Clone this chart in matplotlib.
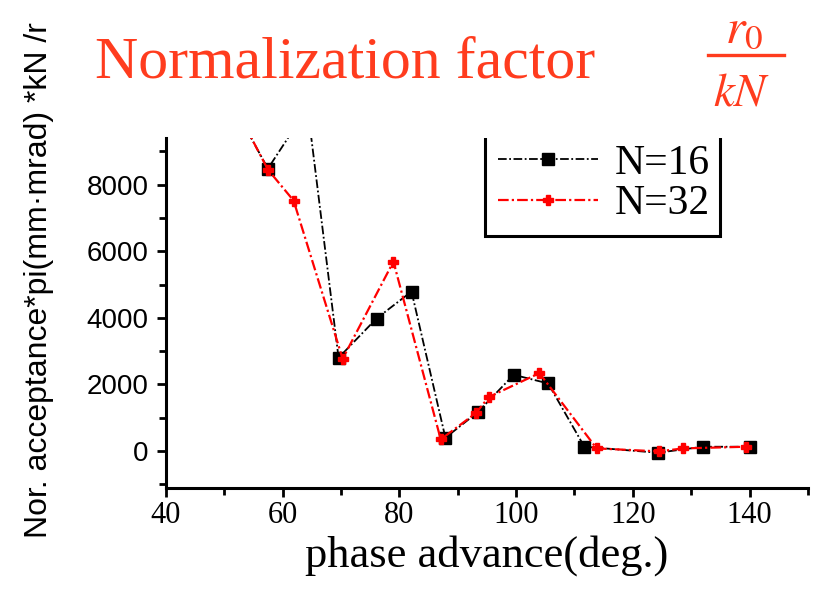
import matplotlib
matplotlib.use("Agg")
import matplotlib.pyplot as plt
from matplotlib.patches import Rectangle
from matplotlib.lines import Line2D
from matplotlib import font_manager

# data (points above the top are off-chart peaks)
n16_x = [51.5, 57.5, 64.3, 69.6, 76.1, 82.1, 87.9, 93.4, 99.6, 105.5, 111.7, 124.3, 132.0, 140.0]
n16_y = [10400, 8480, 10300, 2800, 3980, 4790, 400, 1160, 2290, 2030, 130, -50, 130, 130]

n32_x = [52.0, 57.5, 61.9, 70.3, 79.0, 87.1, 93.2, 95.3, 104.0, 113.8, 124.5, 128.6, 139.4]
n32_y = [10300, 8450, 7520, 2770, 5690, 350, 1150, 1620, 2340, 80, -10, 80, 130]

x_ticks = [40, 60, 80, 100, 120, 140]
y_ticks = [0, 2000, 4000, 6000, 8000]

serif = "Liberation Serif"
names = {f.name for f in font_manager.fontManager.ttflist}
narrow = "Liberation Sans Narrow" if "Liberation Sans Narrow" in names else "Liberation Sans"
title_red = "#ff3c1e"

fig = plt.figure(figsize=(8.14, 5.96), dpi=100)
ax = fig.add_axes([0.2036, 0.1817, 0.789, 0.5868])

ax.plot(n16_x, n16_y, color="black", lw=1.3, dashes=(4.8, 1.4, 1, 1.4),
        marker="s", ms=8.5, label="N=16")
ax.plot(n32_x, n32_y, color="red", lw=1.6, dashes=(4.8, 1.4, 1, 1.4),
        marker="P", ms=6.5, label="N=32")

ax.set_xlim(40, 150)
ax.set_ylim(-1100, 9400)
ax.set_xticks(x_ticks)
ax.set_xticks(range(50, 151, 20), minor=True)
ax.set_yticks(y_ticks)
ax.set_yticks(range(-1000, 9001, 2000), minor=True)

for s in ["top", "right"]:
    ax.spines[s].set_visible(False)
for s in ["left", "bottom"]:
    ax.spines[s].set_linewidth(2.2)

ax.tick_params(which="major", length=6.5, width=2, direction="out")
ax.tick_params(which="minor", length=5, width=2, direction="out")
ax.tick_params(axis="x", pad=3)
ax.tick_params(axis="y", pad=6)
for lab in ax.get_xticklabels():
    lab.set_fontfamily(serif)
    lab.set_fontsize(22)
for lab in ax.get_yticklabels():
    lab.set_fontfamily(narrow)
    lab.set_fontsize(22 if "Narrow" in narrow else 20)

ax.set_xlabel("phase advance(deg.)", fontfamily=serif, fontsize=32, labelpad=4)

fig.text(0.048, 1 - 280 / 596, "Nor. acceptance*pi(mm\u00b7mrad) *kN /r",
         rotation=90, fontfamily="Liberation Sans", fontsize=23,
         ha="center", va="center")

# legend box, top edge cut off by the axes top
ax.add_patch(Rectangle((0.497, 0.72), 0.366, 0.5, transform=ax.transAxes,
                       fill=False, lw=2.2, ec="black"))
ax.legend(loc="center left", bbox_to_anchor=(0.517, 0.869), frameon=False,
          prop={"family": serif, "size": 30}, handlelength=2.4,
          handletextpad=0.4, labelspacing=0.05, borderpad=0, borderaxespad=0)

# title and normalization factor
fig.text(95 / 814, 1 - 78 / 596, "Normalization factor", color=title_red,
         fontfamily=serif, fontsize=43, va="baseline", ha="left")
plt.rcParams["mathtext.fontset"] = "stix"
fig.text(744 / 814, 1 - 42 / 596, r"$r_0$", color=title_red, fontsize=36,
         ha="center", va="baseline")
fig.text(742 / 814, 1 - 106 / 596, r"$kN$", color=title_red, fontsize=34,
         ha="center", va="baseline")
fig.add_artist(Line2D([708 / 814, 784 / 814], [1 - 55 / 596, 1 - 55 / 596],
                      color=title_red, lw=2.4, transform=fig.transFigure))

fig.savefig("out.png", dpi=100)
